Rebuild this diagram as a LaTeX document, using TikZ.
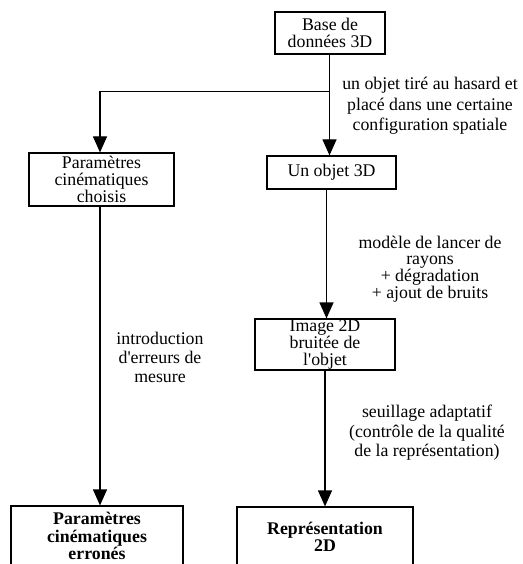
\documentclass[tikz,border=0pt]{standalone}
\usepackage{fontspec}
\setmainfont{Liberation Serif}
\usetikzlibrary{arrows.meta}
\begin{document}
\begin{tikzpicture}[x=1pt,y=1pt,
  box/.style={draw,line width=1.2pt,inner sep=0pt,align=center,
    font=\fontsize{17.8}{17}\selectfont},
  lbl/.style={inner sep=0pt,align=center},
  conn/.style={line width=1.2pt},
  arr/.style={conn,-{Triangle[width=14pt,length=16pt]}}]
\useasboundingbox (0,0) rectangle (522,-564);
\node[box,minimum width=110,minimum height=42] (base) at (330,-33) {Base de\\données 3D};
\node[box,minimum width=145,minimum height=53] (pc) at (101.5,-179.5) {Paramètres\\cinématiques\\choisis};
\node[box,minimum width=129,minimum height=33] (obj) at (331.5,-172.5) {Un objet 3D};
\node[box,minimum width=140,minimum height=51] (img) at (325,-344.5) {Image 2D\\bruitée de\\l\textquotesingle objet};
\node[box,minimum width=172,minimum height=60,font=\fontsize{17.8}{17.5}\selectfont\bfseries] (err) at (97,-536) {Paramètres\\cinématiques\\erronés};
\node[box,minimum width=176,minimum height=59,font=\fontsize{17.8}{17}\selectfont\bfseries] (rep) at (325,-536.5) {Représentation\\2D};
\coordinate (br) at (329.5,-91.5);
\coordinate (lb) at (100,-91.5);
\draw[conn] (base.south -| br) -- (br);
\draw[arr] (br) -- (br |- obj.north);
\draw[conn] (br) -- (lb);
\draw[arr] (lb) -- (lb |- pc.north);
\draw[arr] (lb |- pc.south) -- (lb |- err.north);
\coordinate (mc) at (326.5,0);
\draw[arr] (mc |- obj.south) -- (mc |- img.north);
\draw[arr] (img.south) -- (img.south |- rep.north);
\node[lbl,font=\fontsize{17.8}{20.5}\selectfont] (l1) at (430,-106) {un objet tiré au hasard et\\placé dans une certaine\\configuration spatiale};
\node[lbl,font=\fontsize{17.8}{16.7}\selectfont] (l2) at (430,-269) {modèle de lancer de\\rayons\\+ dégradation\\+ ajout de bruits};
\node[lbl,font=\fontsize{17.8}{19}\selectfont] (l3) at (160,-357) {introduction\\d\textquotesingle erreurs de\\mesure};
\node[lbl,font=\fontsize{17.8}{19.5}\selectfont] (l4) at (427,-433) {seuillage adaptatif\\(contrôle de la qualité\\de la représentation)};
\end{tikzpicture}
\end{document}
